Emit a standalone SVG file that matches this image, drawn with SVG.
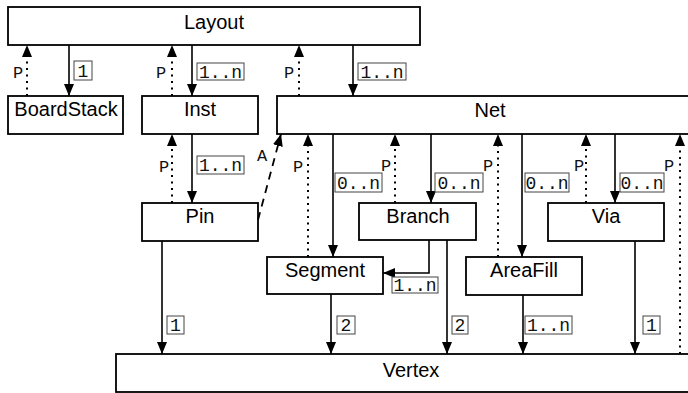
<svg xmlns="http://www.w3.org/2000/svg" width="688" height="393" viewBox="0 0 688 393">
  <defs>
    <marker id="ah" viewBox="0 0 12 10" refX="12" refY="5" markerWidth="12" markerHeight="10" markerUnits="userSpaceOnUse" orient="auto">
      <path d="M0,0 L12,5 L0,10 z" fill="#000"/>
    </marker>
    <style>
      .box { fill: #fff; stroke: #000; stroke-width: 1.8; }
      .name { font-family: "Liberation Sans", Arial, sans-serif; font-size: 20px; text-anchor: middle; fill: #000; }
      .solid { fill: none; stroke: #000; stroke-width: 1.6; marker-end: url(#ah); }
      .dot { fill: none; stroke: #000; stroke-width: 2; stroke-dasharray: 2 4.5; marker-end: url(#ah); }
      .dash { fill: none; stroke: #000; stroke-width: 1.8; stroke-dasharray: 8 6; marker-end: url(#ah); }
      .mbox { fill: #fff; stroke: #444; stroke-width: 1; }
      .mult { font-family: "Liberation Mono", "Courier New", monospace; font-size: 18px; text-anchor: middle; fill: #111; }
      .role { font-family: "Liberation Mono", "Courier New", monospace; font-size: 17px; text-anchor: middle; fill: #111; }
    </style>
  </defs>

  <!-- classes -->
  <g id="layout"><rect class="box" x="8" y="7" width="412" height="38"/><text class="name" x="214" y="29">Layout</text></g>
  <g id="boardstack"><rect class="box" x="8" y="96" width="115" height="38"/><text class="name" x="66" y="116">BoardStack</text></g>
  <g id="inst"><rect class="box" x="142" y="96" width="116" height="38"/><text class="name" x="200" y="116">Inst</text></g>
  <g id="net"><rect class="box" x="277" y="96" width="430" height="38"/><text class="name" x="490" y="117">Net</text></g>
  <g id="pin"><rect class="box" x="142" y="203" width="116" height="38"/><text class="name" x="200" y="223">Pin</text></g>
  <g id="branch"><rect class="box" x="359" y="203" width="117" height="37"/><text class="name" x="418" y="223">Branch</text></g>
  <g id="via"><rect class="box" x="548" y="203" width="116" height="38"/><text class="name" x="606" y="223">Via</text></g>
  <g id="segment"><rect class="box" x="267" y="257" width="116" height="37"/><text class="name" x="325" y="277">Segment</text></g>
  <g id="areafill"><rect class="box" x="466" y="257" width="116" height="38"/><text class="name" x="524" y="277">AreaFill</text></g>
  <g id="vertex"><rect class="box" x="116" y="354" width="590" height="38"/><text class="name" x="411" y="377">Vertex</text></g>

  <!-- associations -->
  <g id="connectors">
    <line class="solid" x1="69" y1="45" x2="69" y2="96"/>
    <line class="dot" x1="27" y1="96" x2="27" y2="45"/>
    <line class="solid" x1="192" y1="45" x2="192" y2="96"/>
    <line class="dot" x1="172" y1="96" x2="172" y2="45"/>
    <line class="solid" x1="353" y1="45" x2="353" y2="96"/>
    <line class="dot" x1="299" y1="96" x2="299" y2="45"/>

    <line class="solid" x1="192" y1="134" x2="192" y2="203"/>
    <line class="dot" x1="172" y1="203" x2="172" y2="134"/>
    <line class="dash" x1="258" y1="220" x2="281" y2="134"/>

    <line class="solid" x1="333" y1="134" x2="333" y2="257"/>
    <line class="dot" x1="308" y1="257" x2="308" y2="134"/>
    <line class="solid" x1="431" y1="134" x2="431" y2="203"/>
    <line class="dot" x1="395" y1="203" x2="395" y2="134"/>
    <line class="solid" x1="522" y1="134" x2="522" y2="257"/>
    <line class="dot" x1="498" y1="257" x2="498" y2="134"/>
    <line class="solid" x1="615" y1="134" x2="615" y2="203"/>
    <line class="dot" x1="586" y1="203" x2="586" y2="134"/>
    <line class="dot" x1="680" y1="354" x2="680" y2="134"/>

    <polyline class="solid" points="429,240 429,273 383,273"/>
    <line class="solid" x1="447" y1="240" x2="447" y2="354"/>
    <line class="solid" x1="162" y1="241" x2="162" y2="354"/>
    <line class="solid" x1="331" y1="294" x2="331" y2="354"/>
    <line class="solid" x1="523" y1="295" x2="523" y2="354"/>
    <line class="solid" x1="635" y1="241" x2="635" y2="354"/>

    <!-- multiplicities -->
    <rect class="mbox" x="74" y="61" width="18" height="19"/><text class="mult" x="83" y="77">1</text>
    <rect class="mbox" x="197" y="63" width="47" height="17"/><text class="mult" x="220.5" y="78">1..n</text>
    <rect class="mbox" x="358" y="63" width="48" height="17"/><text class="mult" x="382" y="78">1..n</text>
    <rect class="mbox" x="197" y="156" width="47" height="18"/><text class="mult" x="220.5" y="171">1..n</text>
    <rect class="mbox" x="335" y="173" width="47" height="19"/><text class="mult" x="358.5" y="189">0..n</text>
    <rect class="mbox" x="435" y="173" width="48" height="19"/><text class="mult" x="459" y="189">0..n</text>
    <rect class="mbox" x="525" y="173" width="44" height="19"/><text class="mult" x="547" y="189">0..n</text>
    <rect class="mbox" x="620" y="173" width="44" height="19"/><text class="mult" x="642" y="189">0..n</text>
    <rect class="mbox" x="392" y="277" width="46" height="16"/><text class="mult" x="415" y="291">1..n</text>
    <rect class="mbox" x="167" y="316" width="17" height="18"/><text class="mult" x="175.5" y="331">1</text>
    <rect class="mbox" x="337" y="316" width="18" height="18"/><text class="mult" x="346" y="331">2</text>
    <rect class="mbox" x="452" y="316" width="16" height="18"/><text class="mult" x="460" y="331">2</text>
    <rect class="mbox" x="525" y="316" width="47" height="18"/><text class="mult" x="548.5" y="331">1..n</text>
    <rect class="mbox" x="643" y="316" width="17" height="18"/><text class="mult" x="651.5" y="331">1</text>

    <!-- roles -->
    <text class="role" x="18" y="78">P</text>
    <text class="role" x="161" y="78">P</text>
    <text class="role" x="289" y="78">P</text>
    <text class="role" x="164" y="172">P</text>
    <text class="role" x="262" y="161">A</text>
    <text class="role" x="298" y="172">P</text>
    <text class="role" x="386" y="171">P</text>
    <text class="role" x="488" y="171">P</text>
    <text class="role" x="579" y="171">P</text>
    <text class="role" x="669" y="171">P</text>
  </g>
</svg>
